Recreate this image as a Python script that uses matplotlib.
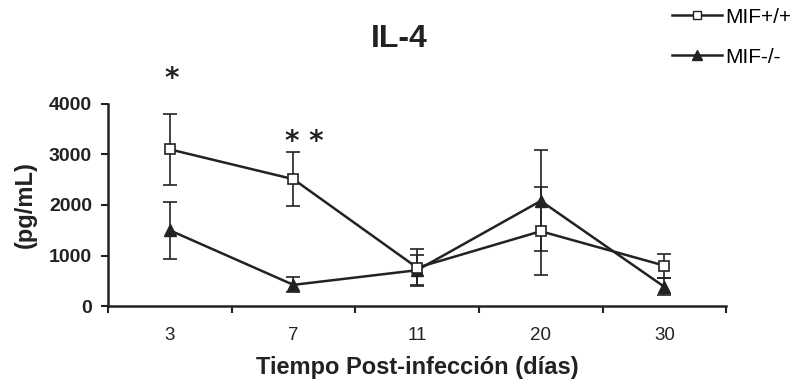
import matplotlib.pyplot as plt
from matplotlib.lines import Line2D

# data
days = ["3", "7", "11", "20", "30"]
wt_mean = [3100, 2510, 760, 1480, 800]
wt_err = [700, 530, 360, 870, 240]
ko_mean = [1500, 420, 710, 2080, 380]
ko_err = [560, 150, 300, 1000, 170]
stars = ["*", "* *"]
star_y = [4500, 3240]

ink = "#222222"
x = list(range(len(days)))

fig = plt.figure(figsize=(7.99, 3.86), dpi=100)
ax = fig.add_axes([0.135, 0.207, 0.774, 0.524])

ax.errorbar(x, wt_mean, yerr=wt_err, color=ink, lw=1.8, marker="s", ms=7.5,
            mfc="white", mec=ink, mew=1.2, ecolor=ink, elinewidth=1.2,
            capsize=5, capthick=1.2, zorder=3)
ax.errorbar(x, ko_mean, yerr=ko_err, color=ink, lw=1.8, marker="^", ms=8,
            mfc=ink, mec=ink, ecolor=ink, elinewidth=1.2,
            capsize=5, capthick=1.2, zorder=2)

# significance marks
for i, (s, yv) in enumerate(zip(stars, star_y)):
    ax.text(i + (0.09 if len(s) > 1 else 0.02), yv, s, ha="center",
            va="center", fontsize=20, fontweight="bold", color=ink,
            clip_on=False)

ax.set_xlim(-0.5, len(days) - 0.5)
ax.set_ylim(0, 4000)
ax.set_yticks([0, 1000, 2000, 3000, 4000])
ax.set_xticks([i - 0.5 for i in range(len(days) + 1)])
ax.set_xticklabels([])
ax.set_xticks(x, minor=True)
ax.set_xticklabels(days, minor=True, family=["Liberation Sans Narrow", "Liberation Sans"],
                   fontsize=13.5, color=ink)
ax.tick_params(axis="x", which="minor", length=0, pad=15)
ax.tick_params(axis="x", which="major", length=5, width=1.5, color=ink)
ax.tick_params(axis="y", length=5, width=1.5, color=ink, labelsize=14, pad=6.5)
for lab in ax.get_yticklabels():
    lab.set_fontweight("bold")
    lab.set_family("Liberation Sans")
    lab.set_color(ink)

for side in ["top", "right"]:
    ax.spines[side].set_visible(False)
for side in ["left", "bottom"]:
    ax.spines[side].set_linewidth(1.8)
    ax.spines[side].set_color(ink)

ax.set_ylabel("(pg/mL)", fontsize=17, fontweight="bold", family="Liberation Sans",
              color=ink, labelpad=8.5)
ax.set_xlabel("Tiempo Post-infección (días)", fontsize=17, fontweight="bold",
              family="Liberation Sans", color=ink, labelpad=9)
fig.text(0.50, 0.90, "IL-4", ha="center", va="center", fontsize=23,
         fontweight="bold", family="Liberation Sans", color=ink)

handles = [
    Line2D([], [], color=ink, lw=1.8, marker="s", ms=6, mfc="white", mec=ink),
    Line2D([], [], color=ink, lw=1.8, marker="^", ms=6.5, mfc=ink, mec=ink),
]
fig.legend(handles, ["MIF+/+", "MIF-/-"], loc="upper left",
           bbox_to_anchor=(0.841, 0.98), frameon=False, borderpad=0,
           borderaxespad=0, handlelength=2.4, handletextpad=0.15,
           labelspacing=1.0, prop={"family": "Liberation Sans", "size": 15})

fig.savefig("out.png", dpi=100)
